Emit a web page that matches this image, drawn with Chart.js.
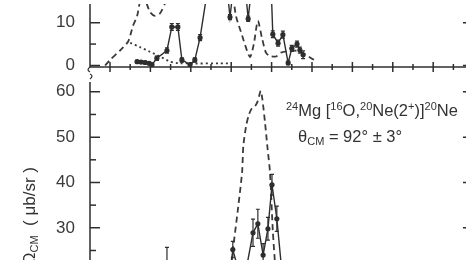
<!DOCTYPE html>
<html>
<head>
<meta charset="utf-8">
<script src="https://cdn.jsdelivr.net/npm/chart.js@4.4.0/dist/chart.umd.min.js"></script>
<style>
  body{margin:0;width:466px;height:260px;overflow:hidden;background:#fff;
       font-family:"Liberation Sans",Arial,sans-serif;color:#333}
  #topBox{position:absolute;left:0;top:0;width:480px;height:80px;filter:blur(0.4px)}
  #botBox{position:absolute;left:0;top:78px;width:480px;height:202px;filter:blur(0.4px)}
  .note{position:absolute;white-space:nowrap;font-size:16.5px;line-height:18px;filter:blur(0.3px)}
  .note sup{font-size:11px;vertical-align:6px;line-height:0}
  .note sub{font-size:11px;vertical-align:-3px;line-height:0}
  #ytitle{position:absolute;left:21px;top:317px;width:150px;height:18px;line-height:18px;
          font-size:17px;text-align:right;white-space:nowrap;transform:rotate(-90deg);
          transform-origin:0 0;filter:blur(0.3px)}
  #ytitle sub{font-size:11px;vertical-align:-3px;line-height:0}
</style>
</head>
<body>
<div id="topBox"><canvas id="topChart"></canvas></div>
<div id="botBox"><canvas id="botChart"></canvas></div>
<div class="note" style="left:286px;top:101px"><sup>24</sup>Mg [<sup>16</sup>O,<sup>20</sup>Ne(2<sup>+</sup>)]<sup>20</sup>Ne</div>
<div class="note" style="left:298px;top:127px">&theta;<sub>CM</sub> = 92&deg; &plusmn; 3&deg;</div>
<div id="ytitle">d&sigma;/d&Omega;<sub>CM</sub>&nbsp; ( &mu;b/sr )</div>
<script>
const ink = '#2e2e2e';

// energy axis (MeV), tick every 0.5
const xTicks = [30, 30.5, 31, 31.5, 32, 32.5, 33, 33.5, 34, 34.5, 35, 35.5, 36, 36.5, 37, 37.5, 38, 38.5];
const topTicks = [0, 5, 10];
const botTicks = [25, 30, 35, 40, 45, 50, 55, 60];

// upper panel - measured points (values above the frame are off the picture)
const topE   = [30.67, 30.77, 30.87, 30.97, 31.04, 31.16, 31.41, 31.53, 31.68, 31.78, 31.98, 32.10, 32.23, 32.42, 32.65, 32.92,
                32.97, 33.04, 33.20, 33.37, 33.42, 33.49, 33.80, 33.99, 34.03, 34.16, 34.28, 34.41, 34.50, 34.63, 34.70, 34.78];
const topY   = [0.9, 0.8, 0.7, 0.5, 0.2, 1.7, 3.5, 9.0, 9.0, 1.3, 0.2, 1.3, 6.5, 18, 24, 16,
                11.3, 17, 22, 16, 10.9, 17, 24, 18, 7.3, 5.2, 7.2, 0.6, 4.0, 5.0, 3.6, 2.5];
const topErr = [0.3, 0.3, 0.3, 0.3, 0.3, 0.5, 0.6, 0.8, 0.8, 0.5, 0.3, 0.5, 0.7, 0, 0, 0,
                0.6, 0, 0, 0, 0.6, 0, 0, 0, 0.8, 0.7, 0.8, 0.4, 0.7, 0.7, 0.7, 0.9];
// upper panel - dashed calculation
const topFitE = [29.88, 30.00, 30.25, 30.45, 30.57, 30.67, 30.77, 30.84, 30.99, 31.11, 31.24, 31.36, 31.53, 32.23, 32.92,
                 33.12, 33.27, 33.39, 33.47, 33.56, 33.66, 33.76, 33.86, 33.96, 34.11, 34.23, 34.46, 34.65, 34.83, 35.00, 35.10];
const topFitY = [0, 1.3, 3.5, 5.6, 9.3, 11.5, 16, 16, 12.5, 11.6, 12.2, 14.5, 20, 30, 22,
                 11.5, 7, 3.5, 2, 5, 10.4, 6.5, 3, 2.2, 2.1, 3.0, 3.4, 3.4, 2.6, 1.6, 1.0];
// upper panel - dotted calculation
const topHfE = [30.50, 30.74, 30.99, 31.24, 31.49, 31.73, 33.02];
const topHfY = [5.3, 4.3, 3.2, 2.1, 0.9, 0.5, 0.5];

// lower panel - measured points
const botE   = [31.41, 32.92, 33.04, 33.29, 33.54, 33.66, 33.79, 33.91, 34.01, 34.13, 34.28];
const botY   = [20, 16, 25.2, 17, 28.9, 30.9, 24, 29.8, 39.5, 32, 18];
const botErr = [5.7, 0, 1.8, 0, 3, 3.2, 2.5, 2.5, 2.3, 2.8, 0];
// lower panel - dashed calculation
const botFitE = [32.95, 33.04, 33.16, 33.27, 33.30, 33.37, 33.44, 33.51, 33.59, 33.66, 33.73, 33.77, 33.84, 33.90, 33.96, 34.03, 34.09, 34.13];
const botFitY = [18, 25, 33.6, 42.3, 48, 52.5, 55, 56.3, 56.8, 58, 60.2, 58.5, 53, 47.5, 42.3, 29.4, 21.5, 17];

const pts = (xs, ys) => xs.map((x, i) => ({x: x, y: ys[i]}));

const frame = {
  id: 'frame',
  afterDatasetsDraw(chart, args, o) {
    const {ctx, chartArea: a, scales} = chart;
    const ys = scales.y;
    ctx.save();
    // error bars of the measured set
    ctx.beginPath(); ctx.rect(a.left, a.top, a.right - a.left, a.bottom - a.top + 2); ctx.clip();
    const meta = chart.getDatasetMeta(0);
    ctx.strokeStyle = ink; ctx.lineWidth = 1.2;
    o.err.forEach((e, i) => {
      if (!e) return;
      const p = meta.data[i], v = chart.data.datasets[0].data[i].y;
      const y1 = ys.getPixelForValue(v + e), y2 = ys.getPixelForValue(v - e);
      ctx.beginPath();
      ctx.moveTo(p.x, y1); ctx.lineTo(p.x, y2);
      ctx.moveTo(p.x - 2, y1); ctx.lineTo(p.x + 2, y1);
      ctx.moveTo(p.x - 2, y2); ctx.lineTo(p.x + 2, y2);
      ctx.stroke();
    });
    ctx.restore();
  },
  afterDraw(chart, args, o) {
    const {ctx, chartArea: a, scales} = chart;
    const ys = scales.y, xs = scales.x;
    ctx.save();
    ctx.strokeStyle = ink; ctx.lineWidth = 1.5;
    ctx.beginPath(); ctx.moveTo(a.left, a.top); ctx.lineTo(a.left, a.bottom); ctx.stroke();
    ys.ticks.forEach(t => {
      const y = ys.getPixelForValue(t.value);
      const big = t.value % 10 === 0;
      ctx.beginPath();
      ctx.moveTo(a.left, y); ctx.lineTo(a.left + (big ? 10 : 6), y);
      if (big) { ctx.moveTo(a.right, y); ctx.lineTo(a.right - 4, y); }
      ctx.stroke();
    });
    if (o.xAxis) {
      ctx.beginPath(); ctx.moveTo(a.left, a.bottom); ctx.lineTo(a.right, a.bottom); ctx.stroke();
      xs.ticks.forEach(t => {
        const x = xs.getPixelForValue(t.value);
        const h = Math.abs(t.value - Math.round(t.value)) < 1e-6 ? 5 : 3;
        ctx.beginPath(); ctx.moveTo(x, a.bottom - h); ctx.lineTo(x, a.bottom + h); ctx.stroke();
      });
      // axis break
      ctx.lineWidth = 1.2;
      ctx.beginPath();
      ctx.moveTo(a.left, a.bottom); ctx.quadraticCurveTo(a.left - 4, a.bottom + 3, a.left, a.bottom + 5);
      ctx.moveTo(a.left, a.bottom + 7); ctx.quadraticCurveTo(a.left + 4, a.bottom + 9, a.left, a.bottom + 12);
      ctx.stroke();
    }
    ctx.restore();
  }
};

function makeChart(id, sets, yMin, yMax, yTicks, showLabel, err, xAxis) {
  return new Chart(document.getElementById(id), {
    type: 'line',
    data: {datasets: sets},
    options: {
      responsive: true, maintainAspectRatio: false, animation: false, events: [],
      layout: {padding: {left: 0, top: 0, right: 13, bottom: 0}},
      plugins: {legend: {display: false}, tooltip: {enabled: false}, frame: {err: err, xAxis: xAxis}},
      scales: {
        x: {
          type: 'linear', min: 29.505, max: 38.837,
          grid: {display: false}, border: {display: false}, ticks: {display: false},
          afterBuildTicks: s => { s.ticks = xTicks.map(v => ({value: v})); },
          afterFit: s => { s.height = 13; s.paddingLeft = 0; s.paddingRight = 0; }
        },
        y: {
          min: yMin, max: yMax,
          grid: {display: false}, border: {display: false},
          ticks: {padding: 7, color: '#3a3a3a', font: {family: 'Liberation Sans', size: 17},
                  callback: v => showLabel(v) ? String(v) : ''},
          afterBuildTicks: s => { s.ticks = yTicks.map(v => ({value: v})); },
          afterFit: s => { s.width = 90; s.paddingTop = 0; s.paddingBottom = 0; }
        }
      }
    },
    plugins: [frame]
  });
}

const solid = (d) => ({data: d, borderColor: ink, borderWidth: 1.4, tension: 0,
  pointRadius: 2.6, pointBackgroundColor: ink, pointBorderWidth: 0});
const dashed = (d) => ({data: d, borderColor: '#3a3a3a', borderWidth: 1.8, borderDash: [6, 4],
  tension: 0.25, pointRadius: 0});
const dotted = (d) => ({data: d, borderColor: '#3a3a3a', borderWidth: 1.8, borderDash: [2, 3],
  tension: 0.2, pointRadius: 0});

makeChart('topChart',
  [solid(pts(topE, topY)), dashed(pts(topFitE, topFitY)), dotted(pts(topHfE, topHfY))],
  -0.35, 14.35, topTicks, v => v === 0 || v === 10, topErr, true);

makeChart('botChart',
  [solid(pts(botE, botY)), dashed(pts(botFitE, botFitY))],
  21.36, 62.16, botTicks, v => v % 10 === 0, botErr, false);
</script>
</body>
</html>
